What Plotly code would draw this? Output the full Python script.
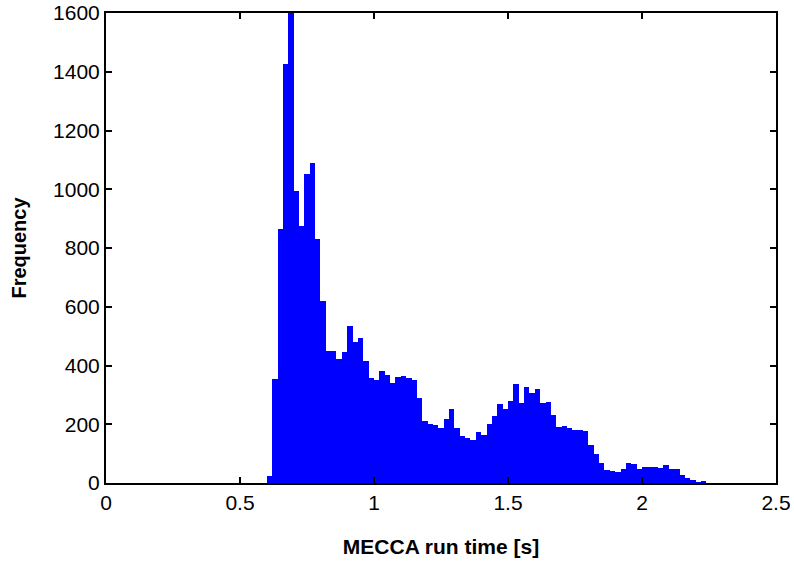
import plotly.graph_objects as go

# Histogram of MECCA run times: bin left edges (s) and counts per 0.02 s bin
bin_width = 0.02
bin_start = 0.60
counts = [
    25, 355, 866, 1427, 1600, 995, 876, 1053, 1090, 832,    # 0.60 - 0.80
    618, 448, 451, 421, 445, 533, 479, 493, 414, 356,       # 0.80 - 1.00
    350, 380, 367, 340, 360, 363, 357, 350, 289, 211,       # 1.00 - 1.20
    200, 197, 187, 217, 251, 187, 160, 153, 146, 173,       # 1.20 - 1.40
    163, 200, 228, 268, 251, 279, 336, 272, 326, 306,       # 1.40 - 1.60
    319, 272, 275, 231, 190, 194, 187, 180, 180, 177,       # 1.60 - 1.80
    129, 99, 68, 44, 41, 37, 48, 68, 65, 48,                # 1.80 - 2.00
    54, 54, 54, 51, 61, 48, 48, 27, 17, 10,                 # 2.00 - 2.20
    2, 6,                                                   # 2.20 - 2.24
]
centers = [round(bin_start + bin_width * (i + 0.5), 4) for i in range(len(counts))]

x_ticks = [0, 0.5, 1, 1.5, 2, 2.5]
x_ticklabels = ["0", "0.5", "1", "1.5", "2", "2.5"]
y_ticks = [0, 200, 400, 600, 800, 1000, 1200, 1400, 1600]

fig = go.Figure()
fig.add_trace(
    go.Bar(
        x=centers,
        y=counts,
        width=bin_width,
        marker=dict(color="#0000ff", line=dict(width=0)),
        showlegend=False,
    )
)

axis_style = dict(
    showline=True,
    linecolor="black",
    linewidth=2,
    mirror="ticks",
    ticks="inside",
    ticklen=6,
    tickwidth=2,
    tickcolor="black",
    showgrid=False,
    zeroline=False,
    automargin=False,
    ticklabeloverflow="allow",
    tickfont=dict(family="Liberation Sans", size=21, color="black"),
)

fig.update_layout(
    width=794,
    height=563,
    margin=dict(l=106, r=18, t=13, b=80),
    paper_bgcolor="white",
    plot_bgcolor="white",
    bargap=0,
    xaxis=dict(
        range=[0, 2.5],
        tickvals=x_ticks,
        ticktext=x_ticklabels,
        title=dict(
            text="<b>MECCA run time [s]</b>",
            font=dict(family="Liberation Sans", size=21, color="black"),
            standoff=26,
        ),
        **axis_style,
    ),
    yaxis=dict(
        range=[0, 1600],
        tickvals=y_ticks,
        title=dict(
            text="<b>Frequency</b>",
            font=dict(family="Liberation Sans", size=20, color="black"),
            standoff=21,
        ),
        **axis_style,
    ),
)

# drop the default 8px body margin so the figure sits at the page corner
fig.write_html(
    "out.html",
    config={"displayModeBar": False},
    post_script="document.body.style.margin = '0';",
)
